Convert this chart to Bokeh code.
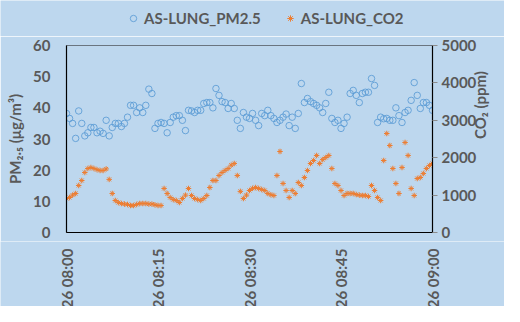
import math
import pandas as pd
from bokeh.plotting import figure
from bokeh.layouts import column
from bokeh.models import (Range1d, LinearAxis, Legend, LegendItem,
                          ColumnDataSource, FixedTicker, SingleIntervalTicker)
from bokeh.core.properties import value
from bokeh.embed import file_html
from bokeh.resources import INLINE

# ---- data -------------------------------------------------------------
times = pd.date_range("2023-07-26 08:00:00", periods=121, freq="30s")

pm25 = [38.2, 36.6, 35.0, 30.2, 39.0, 35.0, 31.0, 32.0, 33.7, 33.7,
        32.0, 32.5, 31.8, 36.0, 31.0, 33.7, 35.0, 35.0, 34.0, 35.0,
        37.0, 40.8, 40.8, 38.5, 40.0, 38.5, 40.8, 46.0, 44.6, 33.4,
        35.0, 35.3, 35.0, 32.0, 35.3, 37.0, 37.5, 37.5, 36.0, 32.7,
        39.2, 39.0, 38.5, 39.2, 39.2, 41.4, 41.7, 41.7, 40.0, 46.2,
        44.0, 42.0, 41.7, 39.8, 41.4, 39.8, 36.0, 33.4, 38.5, 37.0,
        36.6, 38.2, 36.0, 34.3, 38.2, 37.5, 39.2, 37.5, 36.6, 35.3,
        36.0, 37.0, 38.0, 34.3, 37.0, 33.4, 38.2, 47.8, 41.7, 43.0,
        42.0, 41.4, 40.8, 40.0, 38.5, 41.4, 45.0, 36.6, 35.3, 36.0,
        33.4, 35.0, 37.0, 44.6, 45.6, 44.0, 41.7, 44.6, 45.0, 45.0,
        49.4, 47.2, 35.3, 37.0, 36.5, 36.6, 36.0, 36.0, 40.0, 37.5,
        35.3, 38.5, 39.2, 42.4, 48.1, 44.0, 39.8, 41.7, 41.7, 40.8,
        39.2]

co2 = [909, 936, 1000, 1043, 1257, 1390, 1604, 1711, 1738, 1711,
       1680, 1658, 1658, 1700, 1420, 1043, 856, 800, 775, 760,
       750, 722, 722, 750, 775, 775, 775, 760, 760, 740,
       722, 722, 1177, 1043, 936, 880, 856, 802, 909, 1000,
       1177, 989, 909, 880, 856, 909, 989, 1203, 1390, 1390,
       1524, 1604, 1660, 1711, 1800, 1845, 1524, 1100, 909, 1000,
       1123, 1180, 1203, 1177, 1150, 1123, 1043, 1010, 989, 1524,
       2166, 1310, 1123, 936, 1123, 1043, 1337, 1257, 1471, 1658,
       1845, 1925, 2059, 1845, 1950, 2005, 2059, 1711, 1310, 1257,
       1123, 989, 1043, 1043, 1043, 1016, 1000, 989, 989, 963,
       1257, 1123, 936, 856, 1925, 2647, 2326, 1711, 1310, 1043,
       1738, 2407, 2059, 1177, 989, 1444, 1471, 1578, 1711, 1792,
       1845]

tick_times = pd.to_datetime(["2023-07-26 08:00", "2023-07-26 08:15",
                             "2023-07-26 08:30", "2023-07-26 08:45",
                             "2023-07-26 09:00"])
tick_labels = ["07/26 08:00", "07/26 08:15", "07/26 08:30",
               "07/26 08:45", "07/26 09:00"]

series_names = ["AS-LUNG_PM2.5", "AS-LUNG_CO2"]

# ---- styles / layout ----------------------------------------------------
BG = "#bdd7ee"
TXT = "#595959"
FONT = "Lato"
BLUE = "#5b9bd5"
ORANGE = "#ed7d31"

W = 504
LEFT, RIGHT = 66, 72
FRAME_W = W - LEFT - RIGHT
LEGEND_H = 36          # strip holding the legend
PAD = 9                # room for half-height tick labels above/below frame
FRAME_H = 187
LABEL_H = 306 - LEGEND_H - (FRAME_H + 2 * PAD)

t0, t1 = tick_times[0], tick_times[-1]

pm_style = dict(marker="circle", size=6.5, fill_color=None, line_color=BLUE,
                line_width=1, line_alpha=0.85)
co2_style = dict(marker="asterisk", size=5.5, line_color=ORANGE, line_width=1.0)

# ---- main plot -------------------------------------------------------------
p = figure(width=W, height=FRAME_H + 2 * PAD, x_axis_type="datetime",
           output_backend="svg", toolbar_location=None,
           x_range=Range1d(t0, t1), y_range=Range1d(0, 60),
           min_border_left=LEFT, min_border_right=RIGHT,
           min_border_top=PAD, min_border_bottom=PAD)
p.frame_align = False
p.border_fill_color = BG
p.background_fill_color = BG
p.outline_line_color = "#6a7580"
p.outline_line_width = 1
p.grid.visible = False
p.extra_y_ranges = {"co2": Range1d(0, 5000)}

src = ColumnDataSource(dict(t=times, pm=pm25, co2=co2))
p.scatter("t", "pm", source=src, **pm_style)
p.scatter("t", "co2", source=src, y_range_name="co2", **co2_style)

xa = p.xaxis[0]
xa.ticker = FixedTicker(ticks=[])
xa.major_tick_in = 0
xa.major_tick_out = 0
xa.minor_tick_line_color = None
xa.axis_line_color = "black"
xa.axis_line_width = 1.2

ya = p.yaxis[0]
ya.ticker = SingleIntervalTicker(interval=10, num_minor_ticks=0)
ya.axis_label = "PM\u2082.\u2085 (\u03bcg/m\u00b3)"
ya.axis_line_color = "black"
ya.axis_line_width = 1.2
ya.major_tick_in = 0
ya.major_tick_out = 0
ya.minor_tick_line_color = None
ya.major_label_standoff = 16
ya.axis_label_standoff = 6

ra = LinearAxis(y_range_name="co2",
                ticker=SingleIntervalTicker(interval=1000, num_minor_ticks=0),
                axis_label="CO\u2082 (ppm)")
ra.axis_line_color = "black"
ra.axis_line_width = 1.2
ra.major_tick_in = 0
ra.major_tick_out = 5
ra.major_tick_line_color = "#8c8c8c"
ra.minor_tick_line_color = None
ra.major_label_standoff = 4
ra.axis_label_standoff = 1
ra.axis_label_orientation = math.pi / 2
p.add_layout(ra, "right")

for ax in (ya, ra):
    ax.major_label_text_font = FONT
    ax.major_label_text_font_style = "bold"
    ax.major_label_text_font_size = "15px"
    ax.major_label_text_color = TXT
    ax.axis_label_text_font = FONT
    ax.axis_label_text_font_style = "bold"
    ax.axis_label_text_font_size = "15px"
    ax.axis_label_text_color = TXT

# ---- legend strip ---------------------------------------------------------
h = figure(width=W, height=LEGEND_H, output_backend="svg", toolbar_location=None,
           x_axis_location=None, y_axis_location=None,
           x_range=Range1d(0, 1), y_range=Range1d(0, 1),
           min_border_left=0, min_border_right=0, min_border_top=0, min_border_bottom=0)
h.frame_align = False
h.grid.visible = False
h.outline_line_color = None
h.border_fill_color = BG
h.background_fill_color = BG
# legend proxies: first sample of each series, which lies outside this strip's ranges
lg_pm = h.scatter(x=[times[0]], y=[pm25[0]], **pm_style)
lg_co2 = h.scatter(x=[times[0]], y=[co2[0]], **co2_style)
legend = Legend(items=[LegendItem(label=series_names[0], renderers=[lg_pm]),
                       LegendItem(label=series_names[1], renderers=[lg_co2])],
                orientation="horizontal", location=(125, 9))
legend.background_fill_alpha = 0
legend.border_line_color = None
legend.padding = 0
legend.margin = 0
legend.spacing = 21
legend.glyph_width = 16
legend.glyph_height = 16
legend.label_standoff = 3
legend.label_height = 16
legend.label_text_font = FONT
legend.label_text_font_style = "bold"
legend.label_text_font_size = "15px"
legend.label_text_color = TXT
h.add_layout(legend)

# ---- strip with the rotated time labels (same time scale as the plot) ----
span = t1 - t0
q = figure(width=W, height=LABEL_H, output_backend="svg", toolbar_location=None,
           x_axis_location=None, y_axis_location=None,
           x_range=Range1d(t0 - span * LEFT / FRAME_W, t1 + span * RIGHT / FRAME_W),
           y_range=Range1d(0, LABEL_H),
           min_border_left=0, min_border_right=0, min_border_top=0, min_border_bottom=0)
q.frame_align = False
q.grid.visible = False
q.outline_line_color = None
q.border_fill_color = BG
q.background_fill_color = BG
q.text(x=list(tick_times), y=LABEL_H - 7, text=tick_labels,
       angle=math.pi / 2, text_align="right", text_baseline="middle",
       text_font=value(FONT), text_font_style="bold",
       text_font_size="15px", text_color=TXT)

layout = column(h, p, q, spacing=0)
open("out.html", "w").write(file_html(layout, INLINE))
